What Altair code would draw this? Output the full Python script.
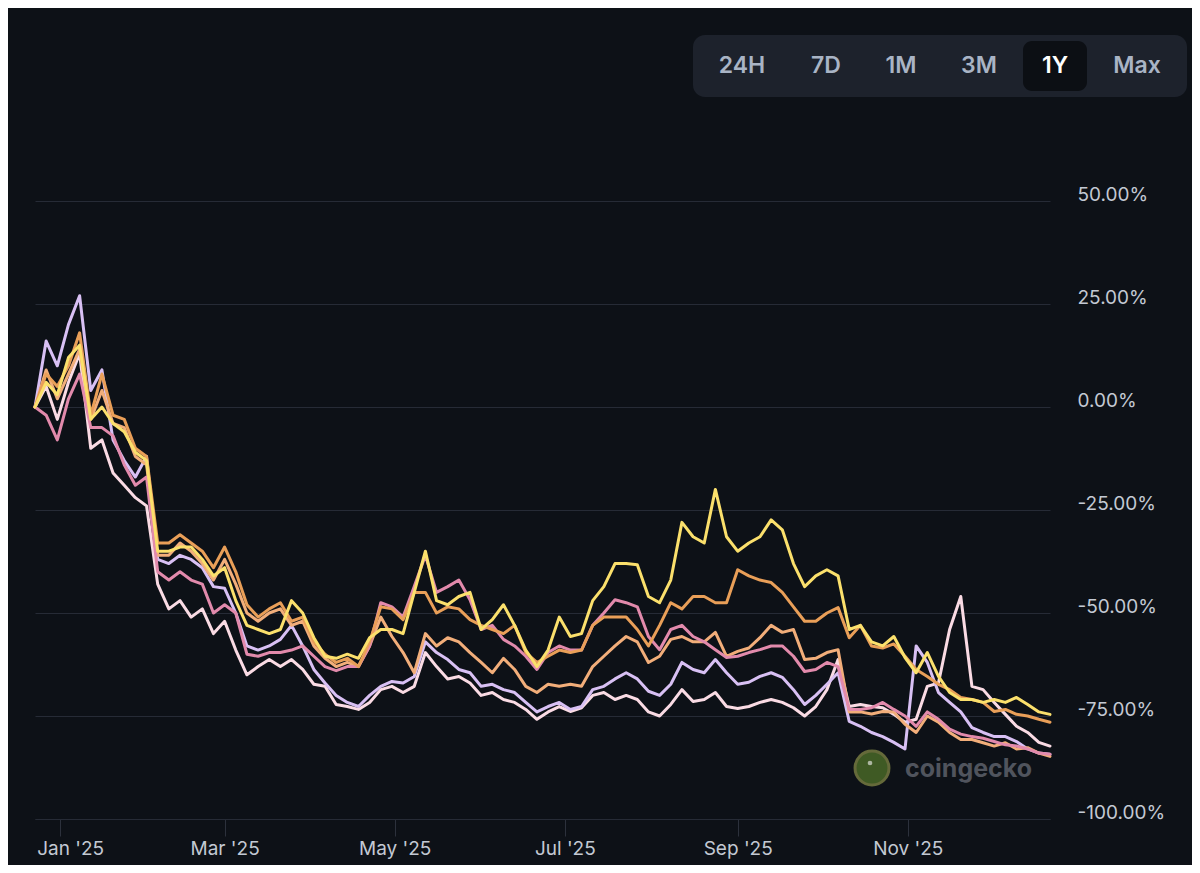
import altair as alt
import pandas as pd

# ---------------- data (percent change, sampled every 4 days) ----------------
START = "2024-12-23"
N_POINTS = 92
dates = pd.date_range(START, periods=N_POINTS, freq="4D").strftime("%Y-%m-%dT00:00:00").tolist()

series_names = ["Token Y", "Token A", "Token Pe", "Token P", "Token L", "Token W"]
series_colors = ["#fbe06c", "#e99f58", "#f2ae7a", "#e28aac", "#d8c0f4", "#fadbe4"]

yellow = [0, 6, 3, 12, 15, -3, 0, -4, -6, -11,
          -13, -35, -35, -34, -34, -37, -41, -39, -47, -53,
          -54, -55, -54, -47, -50, -56, -60.5, -61, -60, -61,
          -56, -54, -54, -55, -45, -35, -47, -48, -46, -45,
          -54, -51.6, -48, -53, -59, -63, -59, -51, -55.7, -55,
          -47, -43.6, -38, -38, -38.3, -46, -47.5, -42, -28, -31.5,
          -33, -20, -31.5, -35, -33, -31.5, -27.4, -29.8, -38, -43.6,
          -41, -39.5, -41, -54, -53, -57, -58, -55.7, -60.8, -64.5,
          -59.6, -65.4, -69.3, -71, -71, -71.7, -71, -71.7, -70.5, -72.2,
          -74, -74.6]

amber = [0, 8, 5, 10, 18, -2, 8, -2, -3, -10,
         -12, -33, -33, -31, -33, -35, -39, -34, -40, -48,
         -51, -49, -47.5, -52, -51, -57, -60, -62, -61, -63,
         -57, -48.5, -49, -51.6, -45, -45, -50, -48.5, -49, -51.6,
         -53, -54, -55, -53, -59.6, -62, -60.5, -59, -59.6, -59,
         -53, -51, -51, -51, -54, -58, -53, -47.5, -49, -46,
         -46, -47.5, -47.5, -39.5, -41, -42, -42.6, -45, -48.5, -52,
         -52, -50, -48.7, -56, -53, -58, -58.5, -57.5, -60.5, -63.7,
         -65.4, -67.3, -68.6, -70.5, -71, -71.7, -73.9, -73.4, -74.6, -75,
         -75.8, -76.5]

peach = [0, 9, 2, 8, 14, -3, 4, -4, -5, -12,
         -14, -36, -36, -33, -35, -38, -42, -37, -43, -50,
         -52, -50, -49, -53, -52, -58, -61, -63, -62, -63,
         -58, -51, -55.7, -59.6, -64.5, -55, -58, -56, -57, -59.6,
         -62, -64.5, -61, -63.7, -67.8, -69.3, -67.3, -67.8, -67.3, -67.8,
         -63, -60.5, -58, -55.7, -57, -62, -60.5, -56.4, -55.7, -57,
         -57, -54.7, -60.5, -59.3, -58.5, -56, -53, -54.7, -54, -61.3,
         -61, -59.6, -58.9, -74, -74, -74.5, -73.9, -74, -77, -79,
         -75, -76.5, -79, -80.7, -80.7, -81.5, -82.3, -81.5, -83, -82.7,
         -84, -84.8]

pink = [0, -2, -8, 2, 8, -5, -5, -7, -14, -19,
        -17, -40, -42, -40, -42, -43, -50, -48, -50, -60,
        -60.5, -59.6, -59.6, -59, -58, -60.5, -63, -64, -63, -63,
        -58, -47.5, -48.5, -51, -43.6, -36, -45, -43.6, -42, -46.8,
        -54, -53, -56.4, -58, -60.5, -63.7, -59.6, -58, -59, -59,
        -53, -50, -46.8, -47.5, -48.5, -55.7, -58.9, -54, -53, -55.7,
        -57, -58.9, -60.8, -60.5, -59.6, -58.9, -58, -58, -60.5, -64.2,
        -63.7, -62, -63, -73.4, -73.4, -73, -71.7, -73.4, -75, -77.5,
        -74, -75.8, -78.2, -79.4, -80, -80.4, -81.2, -82, -82.3, -83,
        -84, -84.3]

lavender = [0, 16, 10, 20, 27, 4, 9, -8, -13, -17,
            -12, -37, -38, -36, -37, -39, -43.6, -44, -50, -58,
            -59, -58, -56.4, -53, -58, -63.7, -67, -70, -71.7, -72.7,
            -70, -67.8, -66.6, -67, -65.4, -57, -59.6, -61.3, -63.7, -64.5,
            -67.8, -67.3, -68.6, -69.3, -71.7, -74, -72.7, -71.7, -73.4, -72.7,
            -68.6, -67.8, -66, -64.5, -66, -69, -70, -67.3, -62, -63.7,
            -64.5, -61.3, -64.5, -67.3, -66.8, -65.4, -64.5, -65.6, -68.6, -72.2,
            -70, -67.3, -64.5, -76.3, -77.5, -79, -80, -81.4, -83, -58,
            -62, -69.3, -71.7, -74, -77.8, -79, -80, -80, -81.2, -83,
            -84, -84.3]

blush = [0, 5, -3, 6, 13, -10, -8, -16, -19, -22,
         -24, -43, -49, -47, -51, -49, -55, -52, -59, -65,
         -63, -61.3, -63, -61.3, -63.7, -67.3, -67.8, -72.2, -72.7, -73.4,
         -71.7, -68.6, -67.8, -69.3, -67.8, -59.6, -63, -66, -65.4, -67,
         -70, -69.3, -71, -71.7, -73.4, -75.8, -74, -72.7, -73.9, -73,
         -70, -69.3, -71, -70, -71, -74, -75, -72.2, -68.6, -71.5,
         -71, -69.3, -72.7, -73.2, -72.7, -71.7, -71, -71.7, -73, -75,
         -72.7, -68.6, -61.3, -72.7, -72.2, -72.7, -73, -74.6, -76.5, -75.8,
         -67.8, -67, -54, -46, -67.8, -68.6, -71.7, -74.6, -77.5, -79,
         -81.4, -82.3]

all_values = [yellow, amber, peach, pink, lavender, blush]

y_ticks = [-100, -75, -50, -25, 0, 25, 50]
x_tick_months = [1, 3, 5, 7, 9, 11]
buttons = ["24H", "7D", "1M", "3M", "1Y", "Max"]
active_button = "1Y"
watermark = "coingecko"

rows = []
for name, vals in zip(series_names, all_values):
    for d, v in zip(dates, vals):
        rows.append({"date": d, "value": v, "series": name})
df = pd.DataFrame(rows)

# ---------------- styling ----------------
BG = "#0d1117"
GRID = "#262b36"
LABEL = "#c3c9d3"
FONT = "Inter"

x_enc = alt.X(
    "date:T",
    title=None,
    scale=alt.Scale(domain=[alt.DateTime(year=2024, month=12, date=23),
                            alt.DateTime(year=2025, month=12, date=22)]),
    axis=alt.Axis(
        values=[alt.DateTime(year=2025, month=m, date=1) for m in x_tick_months],
        format="%b '%y",
        grid=False,
        domain=True, domainColor=GRID, domainWidth=1,
        ticks=True, tickColor="#2c313c", tickSize=17, tickWidth=1,
        labelFont=FONT, labelFontSize=19, labelColor=LABEL,
        labelPadding=3,
        labelOffset={"condition": {"test": "month(datum.value) == 0", "value": 10}, "value": 0},
    ),
)
y_enc = alt.Y(
    "value:Q",
    title=None,
    scale=alt.Scale(domain=[-100, 50], nice=False, zero=False),
    axis=alt.Axis(
        orient="right",
        values=y_ticks,
        labelExpr="(datum.value < 0 ? '-' : '') + format(abs(datum.value), '.2f') + '%'",
        grid=True, gridColor=GRID, gridWidth=1,
        domain=False, ticks=False,
        labelPadding=27, labelAlign="left", labelOffset=-7,
        labelFont=FONT, labelFontSize=19, labelColor=LABEL,
    ),
)

layers = []
# draw order: bottom to top
for name in ["Token W", "Token L", "Token Pe", "Token P", "Token A", "Token Y"]:
    col = series_colors[series_names.index(name)]
    layers.append(
        alt.Chart(df[df["series"] == name])
        .mark_line(strokeWidth=3, strokeJoin="round", strokeCap="round", color=col)
        .encode(x=x_enc, y=y_enc)
    )

one = pd.DataFrame({"k": [0]})

# button group (UI decoration)
layers.append(
    alt.Chart(one).mark_rect(fill="#1d222c", cornerRadius=12)
    .encode(x=alt.value(658), x2=alt.value(1152), y=alt.value(-166), y2=alt.value(-104))
)
layers.append(
    alt.Chart(one).mark_rect(fill="#0c0f14", cornerRadius=9)
    .encode(x=alt.value(988), x2=alt.value(1052), y=alt.value(-160), y2=alt.value(-110))
)
button_x = [707, 791, 866, 944, 1020, 1102]
for lab, bx in zip(buttons, button_x):
    layers.append(
        alt.Chart(one).mark_text(
            text=lab, font=FONT, fontSize=23, fontWeight=600,
            color="#ffffff" if lab == active_button else "#a9b4c5",
            align="center", baseline="middle",
        ).encode(x=alt.value(bx), y=alt.value(-135))
    )

# watermark
layers.append(
    alt.Chart(one).mark_point(filled=True, fill="#3f5a24", stroke="#656a3a", strokeWidth=3,
                              opacity=1, size=1150, shape="circle")
    .encode(x=alt.value(837), y=alt.value(567))
)
layers.append(
    alt.Chart(one).mark_point(filled=True, fill="#c9cdc0", size=22, shape="circle", opacity=0.8)
    .encode(x=alt.value(835), y=alt.value(562))
)
layers.append(
    alt.Chart(one).mark_text(text=watermark, font=FONT, fontSize=25, fontWeight=700,
                             color="#50545d", align="left", baseline="middle")
    .encode(x=alt.value(870), y=alt.value(568))
)

chart = (
    alt.layer(*layers)
    .properties(
        width=1015,
        height=618,
        padding={"left": 27, "top": 193, "right": 142, "bottom": 46},
        autosize=alt.AutoSizeParams(type="none"),
        background=BG,
    )
    .configure(font=FONT)
    .configure_view(stroke=None)
)

chart.save("out.html", embed_options={"renderer": "svg", "actions": False})
